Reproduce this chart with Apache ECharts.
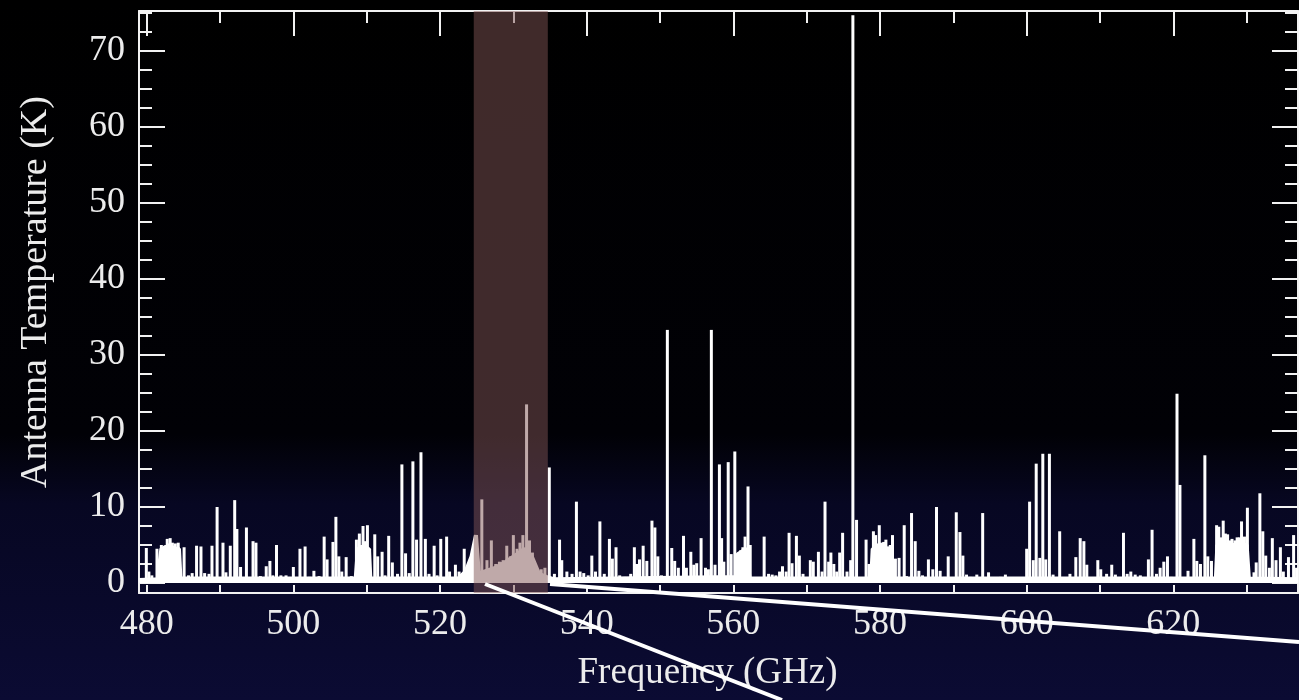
<!DOCTYPE html>
<html>
<head>
<meta charset="utf-8">
<script src="https://cdn.jsdelivr.net/npm/echarts@6/dist/echarts.min.js"></script>
<style>
html,body{margin:0;padding:0;background:#000;}
#chart{width:1299px;height:700px;}
</style>
</head>
<body>
<div id="chart"></div>
<script>
// Spectral line peaks: frequency (GHz) and antenna temperature (K)
const peakFreq = [
479.95,480.3,480.7,481.4,481.8,482.0,482.2,482.4,482.6,482.8,483.0,483.2,483.35,483.5,483.7,483.9,484.1,484.3,484.6,
485.1,485.7,486.2,486.8,487.4,487.9,488.5,488.9,489.6,490.4,490.8,491.4,492.0,492.3,492.8,493.6,494.5,494.9,495.5,
496.3,496.8,497.2,497.7,498.3,499.0,500.0,500.9,501.6,502.2,502.8,503.5,504.2,504.6,505.4,505.8,506.2,506.6,507.2,
507.9,508.6,509.0,509.3,509.5,509.8,510.1,510.4,511.1,511.5,512.1,512.5,513.0,513.5,514.2,514.8,515.3,515.8,516.3,
516.8,517.4,518.0,518.5,519.2,519.6,520.1,520.9,521.3,522.1,522.6,523.3,525.7,526.4,527.0,527.6,528.1,528.6,529.1,
529.6,530.0,530.5,530.9,531.3,531.8,532.2,532.6,533.0,533.8,534.3,534.9,535.6,536.3,536.6,537.3,538.0,538.6,539.1,
539.6,540.2,540.7,541.2,541.8,542.4,543.1,543.5,544.0,544.5,545.2,546.0,546.5,546.8,547.2,547.7,548.2,548.9,549.3,
549.7,550.2,551.0,551.6,552.0,552.5,553.2,553.6,554.2,554.6,555.0,555.6,556.2,556.6,557.0,557.5,558.1,558.4,558.7,
559.3,559.7,560.2,560.6,561.0,561.3,561.6,562.0,562.3,562.9,563.6,564.2,564.8,565.3,565.8,566.3,566.7,567.2,567.6,
568.0,568.6,569.0,569.5,570.5,570.9,571.6,572.1,572.5,573.0,573.3,573.7,574.1,574.5,574.9,575.5,576.0,576.3,576.8,
577.4,578.1,578.5,579.1,579.4,579.7,579.9,580.2,580.5,580.8,581.1,581.4,581.7,582.1,582.6,583.3,583.6,584.3,584.8,
585.3,585.8,586.6,587.2,587.7,588.2,588.8,589.3,590.4,590.9,591.3,591.8,592.3,593.2,594.0,594.8,595.5,596.4,597.1,
598.0,599.0,600.0,600.4,600.9,601.3,601.8,602.2,602.6,603.1,603.6,604.5,605.2,605.9,606.7,607.3,607.8,608.2,608.9,
609.7,610.1,610.9,611.6,612.1,612.6,613.2,613.7,614.2,614.8,615.5,616.1,616.6,617.1,617.7,618.2,618.7,619.2,619.7,
620.5,620.9,621.4,622.0,622.8,623.2,623.7,624.3,624.7,625.2,625.9,626.2,626.5,626.8,627.1,627.4,627.7,628.0,628.4,
628.7,629.0,629.3,629.7,630.1,630.5,631.0,631.3,631.8,632.2,632.6,633.1,633.5,634.0,634.6,635.0,635.7,636.4,636.8
];
const peakTemp = [
4.6,1.5,1.0,4.5,2.1,5.0,4.6,4.9,5.0,5.8,5.2,5.9,4.8,5.3,4.9,5.2,4.6,5.3,1.2,
4.7,1.0,1.3,4.9,4.8,1.3,1.2,4.9,10.0,5.3,1.4,4.9,10.9,7.1,2.1,7.3,5.5,5.3,0.9,
2.2,2.9,1.0,5.0,1.0,1.0,2.1,4.5,4.8,0.8,1.6,0.9,6.1,3.1,5.4,8.7,3.5,1.5,3.4,
0.9,5.7,6.5,5.0,7.5,5.5,7.6,4.5,6.4,3.5,4.1,1.0,6.2,2.7,1.2,15.6,3.9,1.3,16.0,
5.7,17.2,5.8,1.2,4.9,1.0,5.8,6.1,1.5,2.4,1.5,4.5,11.0,3.0,5.6,2.5,2.8,3.0,4.9,
3.5,6.3,4.5,5.3,6.3,23.5,5.6,4.0,2.5,1.8,2.0,15.2,1.2,5.7,3.0,1.5,1.2,10.7,1.5,
1.3,1.0,3.6,1.5,8.1,1.2,5.8,3.2,4.7,1.0,0.8,1.2,4.7,2.5,3.1,4.9,2.9,8.2,7.3,
3.5,1.0,33.3,4.6,2.9,2.0,6.2,2.0,4.1,2.4,2.6,5.9,2.0,1.8,33.3,2.4,15.6,5.9,2.8,
15.9,3.8,17.3,3.9,4.3,4.7,6.1,12.7,5.0,0.6,0.5,6.1,1.2,1.1,1.0,1.5,2.2,1.5,6.6,
2.6,6.2,3.6,1.2,3.0,2.8,4.1,1.5,10.7,2.8,4.0,2.5,1.5,4.0,6.6,1.5,3.0,74.7,8.3,
0.5,5.7,2.5,6.8,6.3,5.2,7.6,5.3,5.4,5.7,4.8,5.0,6.3,3.2,3.3,7.6,0.9,9.2,5.5,
1.6,1.0,3.1,1.8,10.0,1.6,0.8,3.5,9.3,6.7,3.6,1.1,0.8,1.1,9.2,1.4,0.6,0.8,1.1,
0.3,0.6,4.5,10.7,3.0,15.7,3.3,17.0,3.1,17.0,1.1,6.8,0.5,1.2,3.4,5.9,5.5,2.4,0.5,
3.0,1.8,1.2,2.4,1.1,0.6,6.6,1.2,1.5,1.1,1.0,0.6,3.1,7.0,1.2,2.0,2.8,3.5,0.8,
24.9,12.9,0.5,1.6,5.8,2.9,2.5,16.8,3.5,2.9,7.6,7.4,6.0,8.2,6.5,6.4,5.6,5.8,5.6,
6.0,6.0,8.1,6.1,9.9,0.6,1.4,2.7,11.8,6.8,3.6,2.0,5.9,3.0,4.7,1.5,3.4,6.3,2.0
];
// Continuum / blended emission floor (K)
const floorFreq = [479.0,481.5,482.0,484.4,484.6,508.5,508.8,510.3,510.5,522.5,523.5,524.3,524.9,525.3,526.0,527.5,529.0,530.5,531.5,532.5,533.5,534.5,535.5,560.4,560.6,561.8,562.2,578.8,579.0,581.5,581.7,625.8,626.0,630.0,630.3,637.0];
const floorTemp = [0.4,0.5,4.5,4.5,0.6,0.6,4.5,4.5,0.6,0.6,1.5,3.5,6.3,1.2,1.5,2.0,2.8,3.8,4.5,3.5,1.2,0.8,0.5,0.8,3.8,4.5,0.6,0.6,4.5,4.5,0.6,0.6,5.0,5.0,0.6,0.5];
// Highlighted band (GHz)
const bandRange = [524.6, 534.7];
// Tick labels
const xTickLabels = [480,500,520,540,560,580,600,620];
const xMinorTicks = [480,490,500,510,520,530,540,550,560,570,580,590,600,610,620,630];
const yTickLabels = [0,10,20,30,40,50,60,70];
const yMinorTicks = [0,2.5,5,7.5,10,12.5,15,17.5,20,22.5,25,27.5,30,32.5,35,37.5,40,42.5,45,47.5,50,52.5,55,57.5,60,62.5,65,67.5,70,72.5,75];

const X_MIN = 478.95, X_MAX = 637.0, Y_MIN = -1.32, Y_MAX = 75.26;
const FONT = 'Liberation Serif';
const TXT = '#ececec';
const LINE = {color:'#f2f2f2', width:2};

function xAx(pos, ticks, len, showLine, labels){
  return {
    type:'value', position:pos, min:X_MIN, max:X_MAX,
    axisLine:{show:showLine, onZero:false, lineStyle:LINE},
    axisTick:{show:true, inside:true, length:len, customValues:ticks, lineStyle:LINE},
    axisLabel: labels ? {show:true, customValues:labels, fontFamily:FONT, fontSize:36, color:TXT, margin:14} : {show:false},
    splitLine:{show:false}, minorTick:{show:false}
  };
}
function yAx(pos, ticks, len, showLine, labels){
  return {
    type:'value', position:pos, min:Y_MIN, max:Y_MAX,
    axisLine:{show:showLine, onZero:false, lineStyle:LINE},
    axisTick:{show:true, inside:true, length:len, customValues:ticks, lineStyle:LINE},
    axisLabel: labels ? {show:true, customValues:labels, fontFamily:FONT, fontSize:36, color:TXT, margin:14} : {show:false},
    splitLine:{show:false}
  };
}

const xMain = xAx('bottom', xMinorTicks, 8, true, xTickLabels);
xMain.name = 'Frequency (GHz)';
xMain.nameLocation = 'middle';
xMain.nameGap = 62;
xMain.nameTextStyle = {fontFamily:FONT, fontSize:37, color:TXT, padding:[0,22,0,0]};
const yMain = yAx('left', yTickLabels, 26, true, yTickLabels);
yMain.name = 'Antenna Temperature (K)';
yMain.nameLocation = 'middle';
yMain.nameRotate = 90;
yMain.nameGap = 84;
yMain.nameTextStyle = {fontFamily:FONT, fontSize:38, color:TXT, padding:[0,0,0,20]};

const chart = echarts.init(document.getElementById('chart'), null, {renderer:'canvas'});
chart.setOption({
  animation:false,
  backgroundColor:{type:'linear',x:0,y:0,x2:0,y2:1,colorStops:[
    {offset:0,color:'#000000'},{offset:0.62,color:'#010106'},{offset:0.72,color:'#070722'},{offset:1,color:'#0b0b33'}]},
  grid:{left:139,right:1,top:11,bottom:107,containLabel:false},
  xAxis:[xMain, xAx('top', xTickLabels, 25, true, null), xAx('top', xMinorTicks, 12, false, null)],
  yAxis:[yMain, yAx('left', yMinorTicks, 13, false, null), yAx('right', yTickLabels, 26, true, null), yAx('right', yMinorTicks, 13, false, null)],
  series:[
    {type:'line', xAxisIndex:0, yAxisIndex:0, data:floorFreq.map((f,i)=>[f,floorTemp[i]]),
     showSymbol:false, symbol:'none', lineStyle:{color:'#ffffff',width:4}, areaStyle:{color:'#ffffff',opacity:1}, z:2},
    {type:'bar', xAxisIndex:0, yAxisIndex:0, data:peakFreq.map((f,i)=>[f,peakTemp[i]]),
     barWidth:3, itemStyle:{color:'#ffffff'}, z:3, large:false},
    {type:'custom', xAxisIndex:0, yAxisIndex:0, z:20, silent:true, data:[bandRange],
     renderItem:function(params, api){
       const p0 = api.coord([api.value(0), Y_MAX]);
       const p1 = api.coord([api.value(1), Y_MIN]);
       return {type:'rect', shape:{x:p0[0], y:p0[1], width:p1[0]-p0[0], height:p1[1]-p0[1]},
               style:{fill:'rgba(128,84,84,0.5)'}};
     }}
  ],
  graphic:[
    {type:'line', z:100, shape:{x1:485,y1:584,x2:782,y2:700}, style:{stroke:'#ffffff',lineWidth:4}},
    {type:'line', z:100, shape:{x1:550,y1:584,x2:1299,y2:642}, style:{stroke:'#ffffff',lineWidth:4}}
  ]
});
</script>
</body>
</html>
